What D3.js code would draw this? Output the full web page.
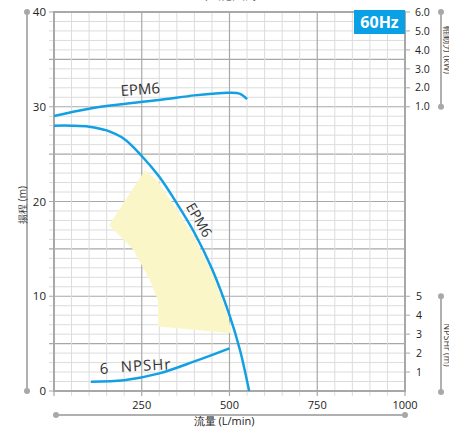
<!DOCTYPE html>
<html><head><meta charset="utf-8">
<script src="https://cdn.jsdelivr.net/npm/d3@7"></script>
<style>body{margin:0;background:#fff}svg{display:block}text{font-family:"Open Sans","Noto Sans",sans-serif}</style>
</head><body><div id="c"></div>
<script>
// ---- data ----
const flowTicks = [250, 500, 750, 1000];
const headTicks = [0, 10, 20, 30, 40];
const powerTicks = [1.0, 2.0, 3.0, 4.0, 5.0, 6.0];
const npshTicks = [1, 2, 3, 4, 5];

const headQ = [0, 50, 100, 150, 200, 250, 300, 350, 400, 450, 500, 530, 556];
const headH = [28.0, 28.0, 27.9, 27.5, 26.6, 24.8, 22.6, 19.8, 16.7, 12.9, 8.0, 4.3, 0];

const powerQ = [0, 100, 200, 300, 400, 450, 500, 530, 550];
const powerP = [0.51, 0.90, 1.15, 1.36, 1.60, 1.69, 1.74, 1.68, 1.40];

const npshQ = [105, 200, 300, 400, 500];
const npshN = [0.49, 0.57, 0.93, 1.56, 2.25];

const areaQ = [157, 259, 292, 342, 400, 452, 496, 506, 297, 296, 273, 226];
const areaH = [17.5, 23.3, 22.3, 19.6, 16.2, 12.4, 7.9, 6.1, 6.8, 9.6, 11.7, 14.9];

const W = 449, H = 429;
const svg = d3.select("#c").append("svg").attr("width", W).attr("height", H);

const x = d3.scaleLinear().domain([0, 1000]).range([54, 405]);
const y = d3.scaleLinear().domain([0, 40]).range([391, 12]);
const yP = p => y(30 + (p - 1) * 2);
const yN = n => y(2 * n);

const blue = "#12a0e3";
const minor = "#dcdcdc", major = "#a8a8a8";

// grid
const g = svg.append("g");
d3.range(0, 41, 1).forEach(h => {
  const isMaj = h % 5 === 0;
  g.append("line").attr("x1", x(0) - 5).attr("x2", x(1000))
    .attr("y1", y(h)).attr("y2", y(h))
    .attr("stroke", isMaj ? major : minor).attr("stroke-width", isMaj ? 1.2 : 1);
});
d3.range(0, 1001, 50).forEach(q => {
  const isMaj = q % 250 === 0;
  g.append("line").attr("x1", x(q)).attr("x2", x(q))
    .attr("y1", y(40)).attr("y2", y(0) + 5)
    .attr("stroke", isMaj ? major : minor).attr("stroke-width", isMaj ? 1.2 : 1);
});

// yellow region
svg.append("path")
  .attr("d", d3.line().curve(d3.curveLinearClosed)(areaQ.map((q, i) => [x(q), y(areaH[i])])))
  .attr("fill", "#fbf6c8").attr("stroke", "none");

// plot border
svg.append("rect").attr("x", x(0)).attr("y", y(40)).attr("width", x(1000) - x(0)).attr("height", y(0) - y(40))
  .attr("fill", "none").attr("stroke", "#a8a8a8").attr("stroke-width", 2);

// axis lines with dots
function axisLine(x1, y1, x2, y2) {
  svg.append("line").attr("x1", x1).attr("y1", y1).attr("x2", x2).attr("y2", y2)
    .attr("stroke", "#b0b0b0").attr("stroke-width", 2);
  [[x1, y1], [x2, y2]].forEach(p => svg.append("circle").attr("cx", p[0]).attr("cy", p[1]).attr("r", 3).attr("fill", "#a8a8a8"));
}
axisLine(27, y(40), 27, y(0));
axisLine(441, yP(6), 441, yP(1));
axisLine(441, yN(5), 441, y(0) + 1);
axisLine(x(0) + 2, 415, x(1000), 415);

// left tick labels
headTicks.forEach(h => svg.append("text").attr("x", 46).attr("y", y(h)).attr("dy", "0.35em")
  .attr("text-anchor", "end").attr("font-size", 11.5).attr("fill", "#222").text(h));
// bottom tick labels
flowTicks.forEach(q => svg.append("text").attr("x", x(q)).attr("y", 405).attr("dy", "0.35em")
  .attr("text-anchor", "middle").attr("font-size", 11).attr("fill", "#222").text(q));
// right power ticks
powerTicks.forEach(p => {
  svg.append("line").attr("x1", x(1000)).attr("x2", x(1000) + 5).attr("y1", yP(p)).attr("y2", yP(p)).attr("stroke", "#a8a8a8");
  svg.append("text").attr("x", 415).attr("y", yP(p)).attr("dy", "0.35em").attr("font-size", 10.5).attr("fill", "#222").text(d3.format(".1f")(p));
});
npshTicks.forEach(n => {
  svg.append("line").attr("x1", x(1000)).attr("x2", x(1000) + 5).attr("y1", yN(n)).attr("y2", yN(n)).attr("stroke", "#a8a8a8");
  svg.append("text").attr("x", 416).attr("y", yN(n)).attr("dy", "0.35em").attr("font-size", 10.5).attr("fill", "#222").text(n);
});

// axis titles
svg.append("text").attr("transform", "translate(22,205) rotate(-90)").attr("text-anchor", "middle")
  .attr("dy", "0.35em").attr("font-size", 10).attr("fill", "#444").text("揚程 (m)");
svg.append("text").attr("x", 224).attr("y", 421).attr("dy", "0.35em").attr("text-anchor", "middle")
  .attr("font-size", 11).attr("fill", "#222").text("流量 (L/min)");
svg.append("text").attr("transform", "translate(447,50) rotate(90)").attr("text-anchor", "middle")
  .attr("dy", "0.35em").attr("font-size", 9).attr("fill", "#444").text("軸動力 (kW)");
svg.append("text").attr("transform", "translate(447,345) rotate(90)").attr("text-anchor", "middle")
  .attr("dy", "0.35em").attr("font-size", 9).attr("fill", "#444").text("NPSHr (m)");
svg.append("text").attr("x", 212).attr("y", -1).attr("text-anchor", "middle")
  .attr("font-size", 14).attr("fill", "#333").text("EPM6 性能曲線");

// curves
const smooth = d3.line().curve(d3.curveCatmullRom.alpha(0.5));
svg.append("path").attr("d", smooth(headQ.map((q, i) => [x(q), y(headH[i])])))
  .attr("fill", "none").attr("stroke", blue).attr("stroke-width", 2.5);
svg.append("path").attr("d", smooth(powerQ.map((q, i) => [x(q), yP(powerP[i])])))
  .attr("fill", "none").attr("stroke", blue).attr("stroke-width", 2.5);
svg.append("path").attr("d", smooth(npshQ.map((q, i) => [x(q), yN(npshN[i])])))
  .attr("fill", "none").attr("stroke", blue).attr("stroke-width", 2.5);

// curve labels
svg.append("text").attr("transform", "translate(121,96) rotate(-4)").attr("font-size", 15).attr("fill", "#333").text("EPM6");
svg.append("text").attr("transform", "translate(199,220) rotate(60)").attr("text-anchor", "middle").attr("dy", "0.35em")
  .attr("font-size", 14).attr("fill", "#333").text("EPM6");
svg.append("text").attr("transform", "translate(100,374) rotate(-3)").attr("font-size", 15).attr("fill", "#333").text("6");
svg.append("text").attr("transform", "translate(121,372) rotate(-3)").attr("font-size", 15).attr("fill", "#333").attr("letter-spacing", 1).text("NPSHr");

// badge
svg.append("rect").attr("x", 354).attr("y", 10).attr("width", 51).attr("height", 24).attr("fill", "#0aa0e6");
svg.append("text").attr("x", 379.5).attr("y", 22.5).attr("dy", "0.36em").attr("text-anchor", "middle")
  .attr("font-size", 16).attr("font-weight", "bold").attr("fill", "#fff").text("60Hz");
</script></body></html>
